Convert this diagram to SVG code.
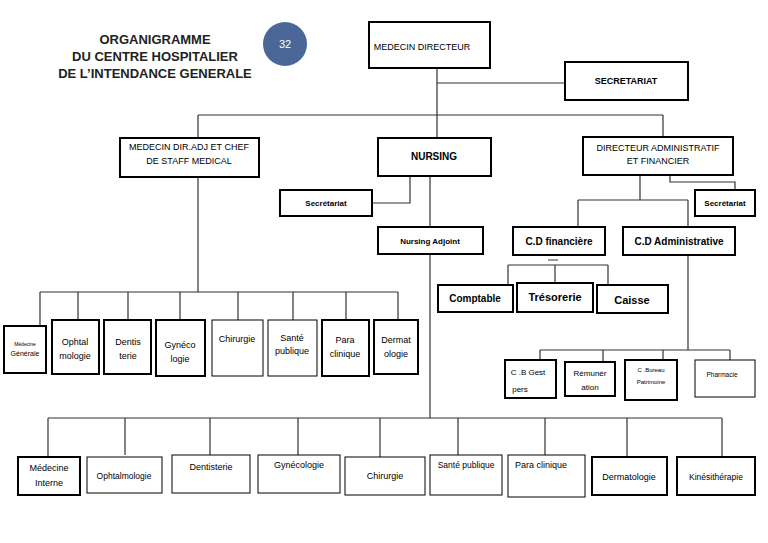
<svg xmlns="http://www.w3.org/2000/svg" width="768" height="543" viewBox="0 0 768 543">
<style>
.b{fill:#fff;stroke:#000;stroke-width:2}
.t{font-family:"Liberation Sans",Arial,sans-serif;font-size:9px;fill:#000;text-anchor:middle}
.s{font-size:7px}
.m{font-size:10px;font-weight:bold}
.l{font-size:11px;font-weight:bold}
.h{font-family:"Liberation Sans",Arial,sans-serif;font-size:13px;font-weight:bold;fill:#222;text-anchor:middle}
#c path{fill:none;stroke:#333;stroke-width:1.2}
</style>
<rect width="768" height="543" fill="#fff"/>
<g id="title">
<text class="h" x="155" y="44">ORGANIGRAMME</text>
<text class="h" x="155" y="61">DU CENTRE HOSPITALIER</text>
<text class="h" x="155" y="78">DE L’INTENDANCE GENERALE</text>
<circle cx="285" cy="44" r="22" fill="#4a6797"/>
<text x="285" y="48" font-family="Liberation Sans,sans-serif" font-size="11" fill="#fff" text-anchor="middle">32</text>
</g>
<g id="c">
<path d="M437 68V138M437 83H565M198 115H663M198 115V138M663 115V137"/>
<path d="M198 177V292M40 292H398M40 292V326M78 292V320M128 292V320M180 292V320M238 292V320M293 292V320M346 292V320M398 292V320"/>
<path d="M410 176V203H372M430 176V227M430 254V418M48 418H722M48 418V457M125 418V455M210 418V455M298 418V455M380 418V457M458 418V455M545 418V455M627 418V457M722 418V457"/>
<path d="M640 175V200M578 200H688M578 200V227M688 200V227M670 175V182H735V190"/>
<path d="M548 260H558M508 265H608M508 265V285M555 265V283M608 265V285"/>
<path d="M688 255V350M540 350H730M540 350V360M603 350V362M663 350V360M730 350V360"/>
</g>
<g id="n-dir"><rect class="b" x="369" y="22" width="121" height="46"/><text class="t" x="422" y="50">MEDECIN DIRECTEUR</text></g>
<g id="n-sec"><rect class="b" x="565" y="62" width="123" height="38"/><text class="t" x="626" y="84" style="font-weight:bold">SECRETARIAT</text></g>
<g id="n-adj"><rect class="b" x="120" y="138" width="139" height="39"/><text class="t" x="189" y="150">MEDECIN DIR.ADJ ET CHEF</text><text class="t" x="189" y="164">DE STAFF MEDICAL</text></g>
<g id="n-nurs"><rect class="b" x="378" y="138" width="113" height="38"/><text class="t m" x="434" y="160">NURSING</text></g>
<g id="n-daf"><rect class="b" x="583" y="137" width="150" height="38"/><text class="t" x="658" y="151">DIRECTEUR ADMINISTRATIF</text><text class="t" x="658" y="164">ET FINANCIER</text></g>
<g id="n-sec2"><rect class="b" x="280" y="190" width="92" height="26"/><text class="t" x="326" y="206" style="font-weight:bold;font-size:8px">Secrétariat</text></g>
<g id="n-nadj"><rect class="b" x="378" y="227" width="105" height="27"/><text class="t" x="430" y="244" style="font-weight:bold;font-size:8px">Nursing Adjoint</text></g>
<g id="n-sec3"><rect class="b" x="695" y="190" width="60" height="26"/><text class="t" x="725" y="206" style="font-weight:bold;font-size:8px">Secrétariat</text></g>
<g id="n-cdf"><rect class="b" x="513" y="227" width="92" height="28"/><text class="t" x="559" y="245" style="font-size:10px;font-weight:bold">C.D financière</text></g>
<g id="n-cda"><rect class="b" x="623" y="227" width="112" height="28"/><text class="t" x="679" y="245" style="font-size:10px;font-weight:bold">C.D Administrative</text></g>
<g id="n-comp"><rect class="b" x="438" y="285" width="75" height="27"/><text class="t" x="475" y="302" style="font-size:10px;font-weight:bold">Comptable</text></g>
<g id="n-tres"><rect class="b" x="517" y="283" width="76" height="29"/><text class="t l" x="555" y="301">Trésorerie</text></g>
<g id="n-caisse"><rect class="b" x="597" y="285" width="71" height="28"/><text class="t l" x="632" y="304">Caisse</text></g>
<g id="n-r1"><rect class="b" x="4" y="326" width="42" height="47"/><text class="t" x="25" y="346" style="font-size:5px">Médecine</text><text class="t s" x="25" y="356">Générale</text></g>
<g id="n-r2"><rect class="b" x="52" y="320" width="47" height="54"/><text class="t" x="75" y="345">Ophtal</text><text class="t" x="75" y="359">mologie</text></g>
<g id="n-r3"><rect class="b" x="104" y="320" width="47" height="54"/><text class="t" x="128" y="345">Dentis</text><text class="t" x="128" y="359">terie</text></g>
<g id="n-r4"><rect class="b" x="156" y="320" width="49" height="56"/><text class="t" x="180" y="348">Gynéco</text><text class="t" x="180" y="362">logie</text></g>
<g id="n-r5"><rect class="b" x="212" y="320" width="51" height="56" style="stroke-width:1"/><text class="t" x="237" y="342">Chirurgie</text></g>
<g id="n-r6"><rect class="b" x="268" y="320" width="49" height="56" style="stroke-width:1"/><text class="t" x="292" y="341">Santé</text><text class="t" x="292" y="354">publique</text></g>
<g id="n-r7"><rect class="b" x="322" y="320" width="47" height="56"/><text class="t" x="345" y="343">Para</text><text class="t" x="345" y="357">clinique</text></g>
<g id="n-r8"><rect class="b" x="374" y="320" width="44" height="54"/><text class="t" x="396" y="343">Dermat</text><text class="t" x="396" y="357">ologie</text></g>
<g id="n-a1"><rect class="b" x="505" y="360" width="51" height="38"/><text class="t" x="528" y="375" style="font-size:8px">C .B Gest</text><text class="t" x="520" y="392" style="font-size:8px">pers</text></g>
<g id="n-a2"><rect class="b" x="565" y="362" width="50" height="34"/><text class="t" x="590" y="376" style="font-size:8px">Rémunér</text><text class="t" x="590" y="390" style="font-size:8px">ation</text></g>
<g id="n-a3"><rect class="b" x="625" y="360" width="52" height="40"/><text class="t" x="651" y="372" style="font-size:6px">C .Bureau</text><text class="t" x="651" y="384" style="font-size:6px">Patrimoine</text></g>
<g id="n-a4"><rect class="b" x="695" y="360" width="60" height="37" style="stroke-width:1"/><text class="t" x="722" y="377" style="font-size:6.5px">Pharmacie</text></g>
<g id="n-b1"><rect class="b" x="18" y="457" width="62" height="38"/><text class="t" x="49" y="471">Médecine</text><text class="t" x="49" y="486">Interne</text></g>
<g id="n-b2"><rect class="b" x="87" y="457" width="75" height="36" style="stroke-width:1"/><text class="t" x="124" y="479" style="font-size:8.5px">Ophtalmologie</text></g>
<g id="n-b3"><rect class="b" x="172" y="455" width="78" height="38" style="stroke-width:1"/><text class="t" x="211" y="470">Dentisterie</text></g>
<g id="n-b4"><rect class="b" x="258" y="455" width="82" height="38" style="stroke-width:1"/><text class="t" x="299" y="468">Gynécologie</text></g>
<g id="n-b5"><rect class="b" x="345" y="457" width="80" height="38" style="stroke-width:1"/><text class="t" x="385" y="479">Chirurgie</text></g>
<g id="n-b6"><rect class="b" x="430" y="455" width="72" height="40" style="stroke-width:1"/><text class="t" x="466" y="468" style="font-size:8.5px">Santé publique</text></g>
<g id="n-b7"><rect class="b" x="508" y="455" width="77" height="42" style="stroke-width:1"/><text class="t" x="541" y="468">Para clinique</text></g>
<g id="n-b8"><rect class="b" x="592" y="457" width="75" height="38"/><text class="t" x="629" y="480">Dermatologie</text></g>
<g id="n-b9"><rect class="b" x="677" y="457" width="78" height="38"/><text class="t" x="716" y="480" style="font-size:8.5px">Kinésithérapie</text></g>
</svg>
